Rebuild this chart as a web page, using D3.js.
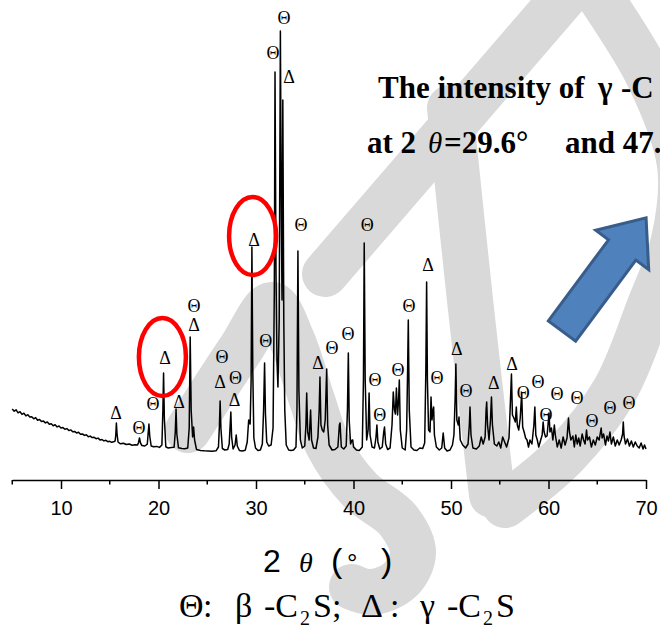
<!DOCTYPE html>
<html>
<head>
<meta charset="utf-8">
<script src="https://cdn.jsdelivr.net/npm/d3@7"></script>
<style>
  body { margin: 0; background: #fff; }
  svg { display: block; }
  .serif { font-family: "Liberation Serif", "Times New Roman", serif; }
  .sans { font-family: "Liberation Sans", Arial, sans-serif; }
</style>
</head>
<body>
<div id="chart"></div>
<script>
// ==========================================
// 1. DATI
// ==========================================
// Diffrattogramma: [2θ, conteggi]
const patternLow = [
  [5.0,610],[5.2,588],[5.4,602],[5.6,572],[5.8,583],[6.0,556],[6.2,568],[6.4,541],[6.6,553],[6.8,530],
  [7.0,532],[7.2,512],[7.4,524],[7.6,497],[7.8,506],[8.0,484],[8.2,489],[8.4,471],[8.6,480],[8.8,457],
  [9.0,463],[9.2,443],[9.4,452],[9.6,431],[9.8,440],[10.0,420],[10.2,424],[10.4,407],[10.6,414],[10.8,394],
  [11.0,401],[11.2,383],[11.4,386],[11.6,370],[11.8,377],[12.0,357],[12.2,361],[12.4,346],[12.6,352],[12.8,333],
  [13.0,339],[13.2,324],[13.4,327],[13.6,313],[13.8,319],[14.0,301],[14.2,305],[14.4,291],[14.6,297],[14.8,283],
  [15.0,287],[15.2,277],[15.4,282],[15.55,290],[15.62,350],[15.68,470],[15.75,360],[15.85,280],[16.1,262],[16.4,268],
  [16.7,255],[17.0,260],[17.3,248],[17.6,252],[17.85,250],[17.95,275],[18.05,320],[18.15,270],[18.3,245],[18.6,240],
  [18.85,258],[18.95,380],[19.02,460],[19.1,340],[19.25,240],[19.5,232],[19.8,236],[20.1,226],[20.35,250],[20.45,600],
  [20.52,970],[20.6,520],[20.75,232],[21.0,220],[21.3,224],[21.6,228],[21.72,380],[21.8,610],[21.88,360],[22.05,222],
  [22.4,215],[22.7,212],[23.0,220],[23.15,420],[23.25,1330],[23.35,600],[23.5,330],[23.6,430],[23.7,300],[23.9,205]
];
const patternMid = [
  [24.3,195],[24.7,192],[25.1,190],[25.5,188],[25.9,192],[26.15,230],[26.25,450],[26.32,690],[26.4,420],[26.55,215],
  [26.8,200],[27.1,205],[27.25,260],[27.35,450],[27.42,580],[27.5,330],[27.65,210],[27.85,250],[27.97,350],[28.08,240],
  [28.3,195],[28.6,190],[28.9,198],[29.1,280],[29.25,500],[29.4,460],[29.5,900],[29.58,2230],[29.67,1000],[29.78,320],
  [29.95,220],[30.2,195],[30.45,200],[30.65,260],[30.78,600],[30.88,1070],[30.97,560],[31.1,280],[31.3,240],[31.55,250],
  [31.75,420],[31.88,1800],[31.95,3980],[32.05,2000],[32.15,1100],[32.25,830],[32.38,1500],[32.5,4390],[32.6,2500],[32.67,1700],
  [32.75,3700],[32.85,1500],[32.95,600],[33.1,250],[33.35,200],[33.6,195],[33.85,200],[34.1,230],[34.2,600],[34.3,2190],
  [34.4,800],[34.55,300],[34.75,220],[35.0,240],[35.12,450],[35.2,770],[35.3,380],[35.45,300],[35.6,600],[35.7,300],
  [35.9,220],[36.15,215],[36.35,330],[36.48,600],[36.56,930],[36.66,450],[36.8,400],[36.95,380],[37.1,500],[37.25,1010],
  [37.35,450],[37.5,250],[37.8,200],[38.1,205],[38.4,230],[38.55,450],[38.62,470],[38.75,230],[39.0,210],[39.25,240],
  [39.38,600],[39.47,1170],[39.56,500],[39.7,260],[39.85,300],[39.92,300],[40.0,230],[40.3,200],[40.6,195],[40.9,230]
];
const patternHigh = [
  [41.02,900],[41.1,2270],[41.2,900],[41.35,300],[41.5,400],[41.6,770],[41.7,350],[41.9,230],[42.15,220],[42.3,320],
  [42.4,450],[42.5,280],[42.7,210],[42.95,230],[43.1,380],[43.18,430],[43.3,260],[43.5,205],[43.75,220],[43.95,450],
  [44.08,780],[44.2,600],[44.3,560],[44.4,820],[44.52,550],[44.62,700],[44.7,900],[44.8,400],[45.0,220],[45.3,200],
  [45.45,400],[45.55,1000],[45.62,1500],[45.72,600],[45.9,230],[46.2,200],[46.5,195],[46.8,220],[47.1,215],[47.3,270],
  [47.42,1000],[47.5,1880],[47.58,900],[47.7,400],[47.85,380],[47.95,730],[48.05,500],[48.15,600],[48.22,630],[48.3,350],
  [48.5,230],[48.8,200],[49.05,220],[49.2,370],[49.35,220],[49.6,190],[49.9,200],[50.15,250],[50.3,350],[50.42,700],
  [50.5,1060],[50.6,500],[50.75,450],[50.82,530],[50.95,300],[51.2,250],[51.5,220],[51.75,260],[51.88,450],[51.95,630],
  [52.05,350],[52.25,220],[52.6,210],[52.9,240],[53.1,330],[53.3,260],[53.5,330],[53.6,600],[53.66,680],[53.75,450],
  [53.9,300],[54.05,500],[54.15,730],[54.25,450],[54.45,260],[54.7,240],[54.9,280],[55.1,220],[55.3,330],[55.5,280],
  [55.7,230],[55.95,320],[56.1,700],[56.2,960],[56.3,550],[56.45,520],[56.6,480],[56.7,630],[56.8,450],[56.95,400],
  [57.1,520],[57.25,770],[57.35,430],[57.5,380],[57.65,320],[57.8,300],[57.95,230],[58.1,300],[58.3,260],[58.5,450],
  [58.6,630],[58.7,350],[58.85,300],[59.0,230],[59.2,300],[59.35,350],[59.45,480],[59.55,380],[59.7,330],[59.85,340],
  [59.95,450],[60.05,570],[60.15,380],[60.3,420],[60.45,300],[60.6,450],[60.7,350],[60.9,230],[61.1,300],[61.3,220],
  [61.5,330],[61.7,250],[61.9,320],[62.05,520],[62.15,380],[62.3,300],[62.5,340],[62.65,230],[62.8,350],[62.95,260],
  [63.1,320],[63.25,240],[63.45,360],[63.6,300],[63.75,260],[63.9,400],[64.0,300],[64.2,330],[64.4,230],[64.6,300],
  [64.8,250],[65.0,330],[65.2,300],[65.4,420],[65.5,320],[65.65,360],[65.85,250],[66.0,340],[66.15,290],[66.3,380],
  [66.45,260],[66.65,330],[66.85,240],[67.05,300],[67.25,250],[67.45,300],[67.6,360],[67.67,480],[67.75,340],[67.9,260],
  [68.1,310],[68.3,240],[68.5,290],[68.7,230],[68.9,280],[69.1,240],[69.3,220],[69.5,270],[69.7,210],[69.85,250],[70.0,210]
];

// Etichette dei picchi (Θ = β-C2S, Δ = γ-C2S): posizione in 2θ e conteggi
const labelTheta  = [15.64, 18.0, 19.44, 20.67, 22.1, 23.64, 23.64, 26.3, 26.5, 27.8, 27.9, 29.8, 31.0, 31.74, 32.87, 33.38,
                     34.62, 36.36, 37.8, 39.44, 41.4, 42.2, 42.7, 44.56, 45.69, 47.64, 48.56, 50.6, 51.55, 54.4, 56.26,
                     57.4, 58.93, 59.75, 60.87, 62.92, 64.47, 66.3, 68.25];
const labelCounts = [570, 420, 660, 1120, 680, 1450, 1640, 880, 1130, 700, 920, 2300, 1290, 4170, 4520, 3930,
                     2450, 1070, 1220, 1360, 2450, 900, 550, 1000, 1640, 2050, 920, 1210, 790, 870, 1060,
                     770, 880, 550, 760, 720, 490, 620, 670];
const labelPhase  = ["Δ","Θ","Θ","Δ","Δ","Δ","Θ","Δ","Θ","Δ","Θ","Δ","Θ","Θ","Θ","Δ",
                     "Θ","Δ","Θ","Θ","Θ","Θ","Θ","Θ","Θ","Δ","Θ","Δ","Θ","Δ","Δ",
                     "Θ","Θ","Θ","Θ","Θ","Θ","Θ","Θ"];

// Picchi evidenziati con l'ellisse rossa
const circleTheta  = [20.4, 29.65];
const circleCounts = [1130, 2340];

// Asse x
const majorTicks = [10, 20, 30, 40, 50, 60, 70];
const minorTicks = [5, 15, 25, 35, 45, 55, 65];

// ==========================================
// 2. SETUP SVG E SCALE
// ==========================================
const W = 660, H = 630;
const svg = d3.select("#chart").append("svg")
    .attr("width", W)
    .attr("height", H);

const x = d3.scaleLinear().domain([5, 70]).range([12.25, 646]);
const y = d3.scaleLinear().domain([0, 4500]).range([470, 20]);
const axisY = 480;

// ==========================================
// 3. FILIGRANA (decorazione di sfondo, grigio chiaro)
// ==========================================
const watermark = [
  [[600,-45],[462,115],[325,274]],
  [[188,430],[240,350],[272,305],[292,340],[312,400],[328,445],[360,490],[398,520],[413,553],[400,580],[372,592],[352,587]],
  [[450,108],[470,300],[492,495]],
  [[585,-25],[648,75],[680,165],[674,240],[650,305],[615,390],[565,455],[505,505]]
];
const wmLine = d3.line().curve(d3.curveCatmullRom.alpha(0.5));
svg.append("g").selectAll("path")
    .data(watermark)
    .enter().append("path")
    .attr("d", d => wmLine(d))
    .attr("fill", "none")
    .attr("stroke", "#d9d9d9")
    .attr("stroke-width", 46)
    .attr("stroke-linecap", "round")
    .attr("stroke-linejoin", "round");

// ==========================================
// 4. ASSE X
// ==========================================
const gAxis = svg.append("g").attr("transform", `translate(0,${axisY})`);
gAxis.call(d3.axisBottom(x).tickValues(majorTicks).tickSize(9).tickSizeOuter(0).tickPadding(12).tickFormat(d3.format("d")));
gAxis.select(".domain").attr("stroke", "#000").attr("stroke-width", 1.5);
gAxis.selectAll(".tick line").attr("stroke", "#000").attr("stroke-width", 1.5);
gAxis.selectAll(".tick text")
    .attr("class", "sans")
    .attr("font-size", 20)
    .attr("fill", "#000");
gAxis.selectAll(".minor")
    .data(minorTicks)
    .enter().append("line")
    .attr("x1", d => x(d)).attr("x2", d => x(d))
    .attr("y1", 0).attr("y2", 4.5)
    .attr("stroke", "#000").attr("stroke-width", 1.5);

// ==========================================
// 5. CURVA XRD
// ==========================================
const pattern = patternLow.concat(patternMid, patternHigh);
svg.append("path")
    .datum(pattern)
    .attr("d", d3.line().x(d => x(d[0])).y(d => y(d[1])))
    .attr("fill", "none")
    .attr("stroke", "#000")
    .attr("stroke-width", 1.5)
    .attr("stroke-linejoin", "round");

// Simboli sui picchi
svg.append("g").selectAll("text")
    .data(labelTheta)
    .enter().append("text")
    .attr("class", "serif")
    .attr("x", d => x(d))
    .attr("y", (d, i) => y(labelCounts[i]))
    .attr("text-anchor", "middle")
    .attr("dominant-baseline", "central")
    .attr("font-size", 18)
    .text((d, i) => labelPhase[i]);

// Ellissi rosse
svg.append("g").selectAll("ellipse")
    .data(circleTheta)
    .enter().append("ellipse")
    .attr("cx", d => x(d))
    .attr("cy", (d, i) => y(circleCounts[i]))
    .attr("rx", 23.5)
    .attr("ry", 39)
    .attr("fill", "none")
    .attr("stroke", "#ff0000")
    .attr("stroke-width", 4.5);

// ==========================================
// 6. FRECCIA BLU
// ==========================================
const arrowLen = 141, headLen = 40, shaftW = 17, headW = 33;
svg.append("path")
    .attr("d", `M0,${-shaftW} L${arrowLen-headLen},${-shaftW} L${arrowLen-headLen},${-headW} L${arrowLen},0 ` +
               `L${arrowLen-headLen},${headW} L${arrowLen-headLen},${shaftW} L0,${shaftW} Z`)
    .attr("transform", "translate(562,331) rotate(-53.4)")
    .attr("fill", "#4f81bd")
    .attr("stroke", "#385d8a")
    .attr("stroke-width", 3)
    .attr("stroke-linejoin", "miter");

// ==========================================
// 7. TESTI
// ==========================================
const note1 = svg.append("text").attr("class", "serif").attr("font-size", 31).attr("font-weight", "bold").attr("y", 98);
note1.append("tspan").attr("x", 378).text("The intensity of");
note1.append("tspan").attr("x", 598).text("γ");
note1.append("tspan").attr("x", 621).text("-C");

const note2 = svg.append("text").attr("class", "serif").attr("font-size", 31).attr("font-weight", "bold").attr("y", 153);
note2.append("tspan").attr("x", 367).text("at 2");
note2.append("tspan").attr("x", 428).attr("font-style", "italic").attr("font-weight", "normal").attr("font-size", 29).text("θ");
note2.append("tspan").attr("x", 444).text("=29.6°");
note2.append("tspan").attr("x", 565).text("and 47.");

// Titolo asse
const xTitle = svg.append("text").attr("y", 572);
xTitle.append("tspan").attr("class", "sans").attr("x", 263).attr("font-size", 32).text("2");
xTitle.append("tspan").attr("class", "serif").attr("x", 299).attr("font-size", 28).attr("font-style", "italic").text("θ");
xTitle.append("tspan").attr("class", "sans").attr("x", 331).attr("font-size", 34).attr("font-weight", 300).text("(");
xTitle.append("tspan").attr("class", "sans").attr("x", 347).attr("font-size", 26).text("°");
xTitle.append("tspan").attr("class", "sans").attr("x", 381).attr("font-size", 34).attr("font-weight", 300).text(")");

// Legenda delle fasi
const legend = svg.append("text").attr("class", "serif").attr("font-size", 34).attr("y", 617);
const legendParts = [
  [179, "Θ"], [203, ":"], [235, "β"], [264, "-C"], [313, "S;"],
  [361, "Δ"], [390, ":"], [420, "γ"], [447, "-C"], [496, "S"]
];
legendParts.forEach(p => legend.append("tspan").attr("x", p[0]).attr("y", 617).text(p[1]));
[300, 483].forEach(px => legend.append("tspan").attr("x", px).attr("y", 625).attr("font-size", 20).text("2"));
</script>
</body>
</html>
